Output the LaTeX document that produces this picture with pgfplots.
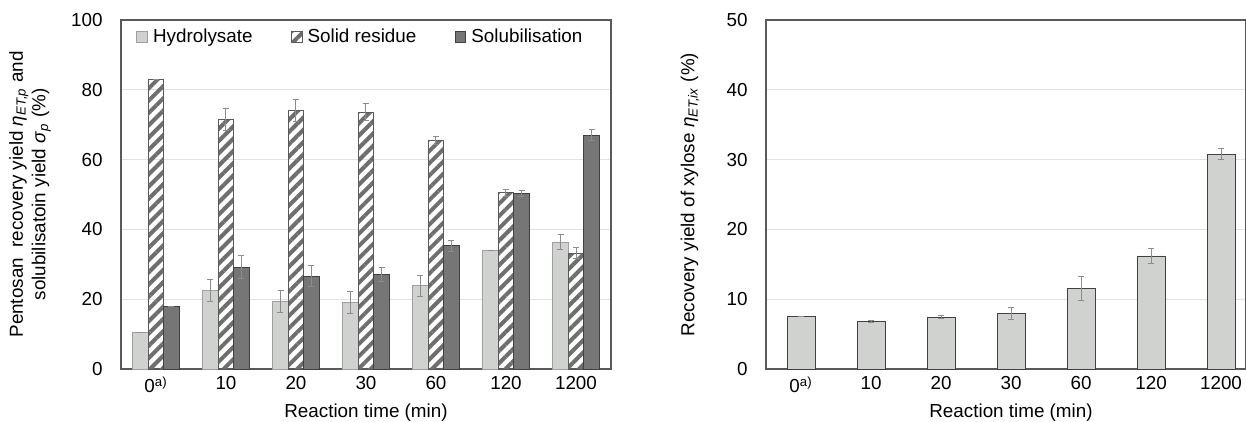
\documentclass[border=0pt]{standalone}
\usepackage{fontspec}
\setmainfont{Liberation Sans}
\usepackage{pgfplots}
\pgfplotsset{compat=1.18}
\usetikzlibrary{patterns.meta}

\definecolor{hyd}{HTML}{D0D2D0}
\definecolor{sol}{HTML}{767676}
\definecolor{stripe}{HTML}{6E6E6E}
\definecolor{gridc}{HTML}{E2E2E2}
\definecolor{boxc}{HTML}{595959}
\definecolor{errc}{HTML}{8C8C8C}

\pgfplotsset{
  sqleg/.style={legend image code/.code={\draw[##1] (0pt,-3.2pt) rectangle (6.4pt,3.2pt); \path (7.6pt,0pt);}},
  common/.style={
    scale only axis, height=209.4pt,
    xmin=-0.5, ymin=0,
    xtick={0,...,6},
    xticklabels={0\textsuperscript{a)},10,20,30,60,120,1200},
    major tick length=0pt,
    ymajorgrids, grid style={gridc, line width=0.6pt},
    axis line style={boxc, line width=0.8pt},
    /pgf/number format/assume math mode=true,
    yticklabel style={xshift=-7.5pt},
    xticklabel style={yshift=-1pt},
    xlabel={Reaction time (min)},
    xlabel style={at={(axis cs:3,0)}, anchor=center, yshift=-26.4pt},
    error bars/y dir=both, error bars/y explicit,
    error bars/error bar style={errc, line width=0.6pt},
    error bars/error mark options={errc, line width=0.6pt, rotate=90, mark size=1.8pt},
  },
}

\begin{document}
\begin{tikzpicture}[font=\fontsize{11.3pt}{13.6pt}\selectfont]
\useasboundingbox (-72.6pt,-31.2pt) rectangle (675pt,221.4pt);

% pentosan yields
\begin{axis}[common,
    width=294pt, xmax=6.5, ymax=100, ytick={0,20,...,100},
    ybar=0pt, bar width=9.3pt,
    ylabel={Pentosan\ \ recovery yield \textit{η}\textsubscript{\textit{ET,p}} and\\solubilisatoin yield \textit{σ}\textsubscript{\textit{p}} (\%)},
    ylabel style={at={(axis description cs:-0.1857,0.5)}, anchor=center, align=center},
    legend style={draw=none, fill=none, legend columns=3, at={(0.49,0.995)}, anchor=north,
      /tikz/every even column/.append style={column sep=21pt}},
  ]
  \addplot[sqleg, draw=gray!75, fill=hyd] coordinates {
    (0,10.5) +- (0,0) (1,22.5) +- (0,3.2) (2,19.3) +- (0,3.2) (3,19.0) +- (0,3.1)
    (4,23.9) +- (0,3.0) (5,33.9) +- (0,0) (6,36.4) +- (0,2.2)};
  \addplot[sqleg, draw=boxc, pattern={Lines[angle=45,distance=5.2pt,line width=2.4pt]}, pattern color=stripe] coordinates {
    (0,83.0) +- (0,0) (1,71.4) +- (0,3.2) (2,74.1) +- (0,3.1) (3,73.6) +- (0,2.4)
    (4,65.4) +- (0,1.2) (5,50.5) +- (0,1.0) (6,33.2) +- (0,1.5)};
  \addplot[sqleg, draw=black!75, fill=sol] coordinates {
    (0,17.9) +- (0,0) (1,29.2) +- (0,3.3) (2,26.6) +- (0,3.1) (3,27.1) +- (0,2.1)
    (4,35.3) +- (0,1.5) (5,50.2) +- (0,0.9) (6,67.0) +- (0,1.5)};
  \legend{Hydrolysate, Solid residue, Solubilisation}
\end{axis}

% xylose recovery
\begin{axis}[common, at={(387pt,0pt)},
    width=288pt, xmax=6.357, ymax=50, ytick={0,10,...,50},
    ybar, bar width=16.8pt,
    ylabel={Recovery yield of xylose \textit{η}\textsubscript{\textit{ET,ix}} (\%)},
    ylabel style={at={(axis description cs:-0.1583,0.5)}, anchor=center},
  ]
  \addplot[draw=black!75, fill=hyd] coordinates {
    (0,7.5) +- (0,0) (1,6.83) +- (0,0.1) (2,7.4) +- (0,0.2) (3,7.98) +- (0,0.86)
    (4,11.5) +- (0,1.7) (5,16.2) +- (0,1.1) (6,30.8) +- (0,0.76)};
\end{axis}
\end{tikzpicture}
\end{document}
